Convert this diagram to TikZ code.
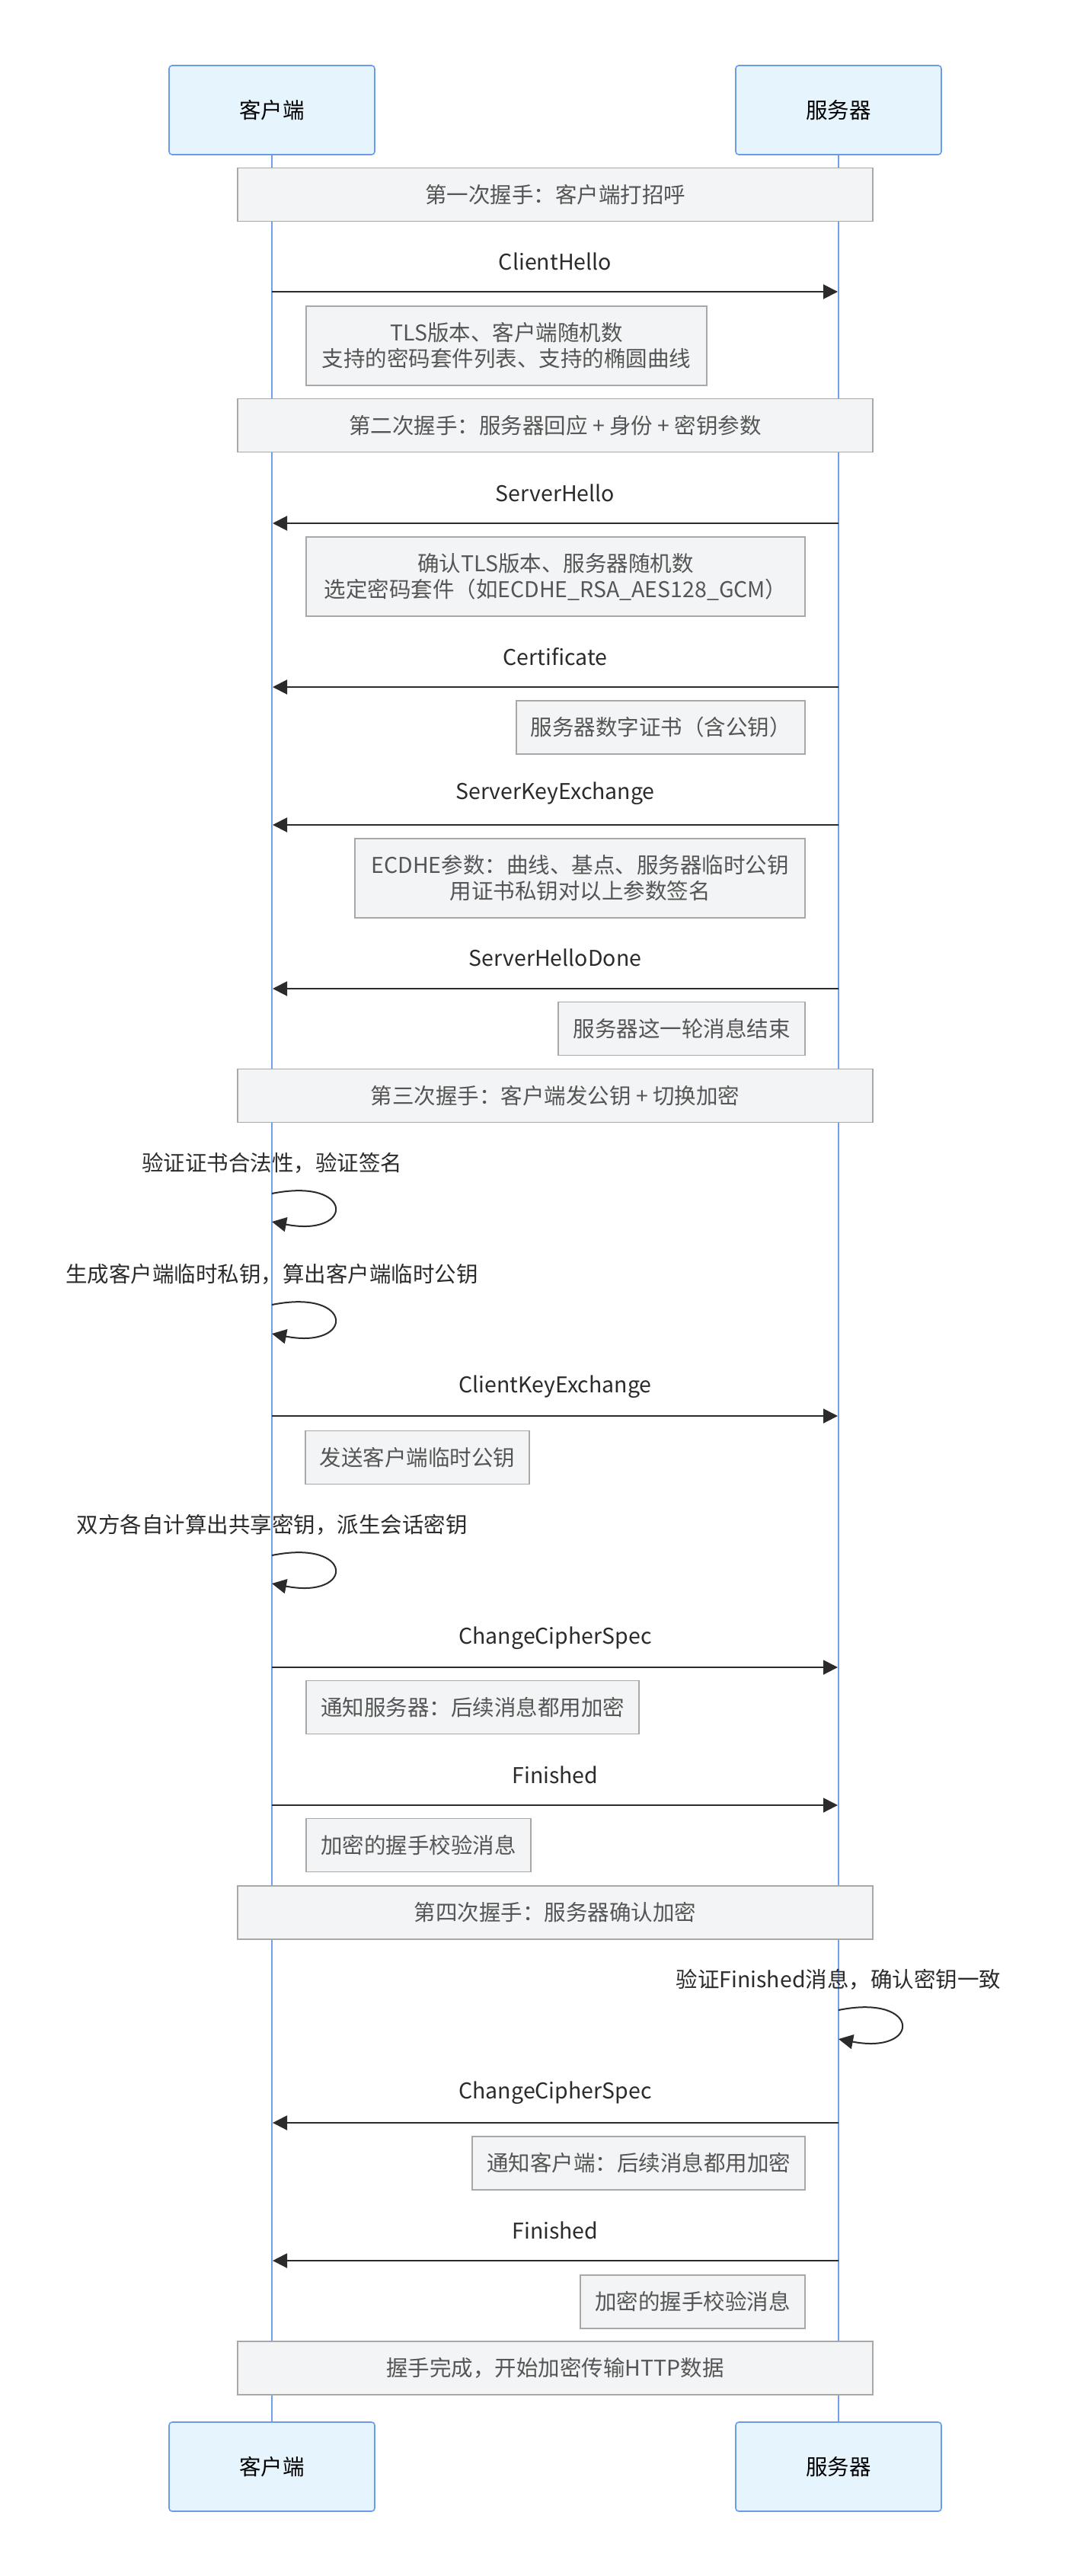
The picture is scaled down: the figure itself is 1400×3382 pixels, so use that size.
\documentclass[tikz,border=0pt]{standalone}
\usepackage{fontspec}
\setmainfont{Noto Sans CJK SC}
\usetikzlibrary{arrows.meta}
\definecolor{lifeblue}{HTML}{6F9FEE}
\definecolor{actfill}{HTML}{E6F4FE}
\definecolor{actdraw}{HTML}{6B9BE8}
\definecolor{notefill}{HTML}{F3F4F5}
\definecolor{notedraw}{HTML}{A8A8A8}
\definecolor{notetext}{HTML}{555555}
\definecolor{msgtext}{HTML}{2B2B2B}
\newcommand\dgfont{\fontsize{28.5}{34}\selectfont}
\begin{document}
\begin{tikzpicture}[x=1pt,y=-1pt,
  actor/.style={draw=actdraw, fill=actfill, line width=1.6pt, rounded corners=4pt,
    minimum width=270pt, minimum height=117pt, inner sep=0pt, font=\dgfont, text=black},
  bar/.style={draw=notedraw, fill=notefill, line width=1.6pt, minimum width=834pt,
    minimum height=70pt, inner sep=0pt, font=\dgfont, text=notetext},
  notebox/.style={draw=notedraw, fill=notefill, line width=1.6pt, inner sep=0pt,
    font=\dgfont, text=notetext, align=center},
  msg/.style={font=\dgfont, text=msgtext, inner sep=0pt},
  life/.style={draw=lifeblue, line width=2pt},
  arr/.style={draw=msgtext, line width=2pt, -{Triangle[length=19pt,width=19pt]}}
]
\useasboundingbox (0,0) rectangle (1400,3382);
\fill[white] (0,0) rectangle (1400,3382);

% actors
\node[actor] (ca) at (357,144.5) {客户端};
\node[actor] (sa) at (1101,144.5) {服务器};
\node[actor] (cb) at (357,3238.5) {客户端};
\node[actor] (sb) at (1101,3238.5) {服务器};

% lifelines
\draw[life] (ca.south) -- (cb.north);
\draw[life] (sa.south) -- (sb.north);

% phase bars
\node[bar] (p1) at (729,255.5) {第一次握手：客户端打招呼};
\node[bar] (p2) at (729,558.5) {第二次握手：服务器回应 + 身份 + 密钥参数};
\node[bar] (p3) at (729,1438.5) {第三次握手：客户端发公钥 + 切换加密};
\node[bar] (p4) at (729,2511) {第四次握手：服务器确认加密};
\node[bar] (p5) at (729,3109) {握手完成，开始加密传输HTTP数据};

% ClientHello
\node[msg] (t1) at (729,343) {ClientHello};
\coordinate (m1a) at (357,383); \coordinate (m1b) at (1100,383);
\draw[arr] (m1a) -- (m1b);
\node[notebox, minimum width=526pt, minimum height=104pt] (c1) at (665,454)
  {TLS版本、客户端随机数\\支持的密码套件列表、支持的椭圆曲线};

% ServerHello
\node[msg] (t2) at (729,647) {ServerHello};
\coordinate (m2a) at (1101,687); \coordinate (m2b) at (358,687);
\draw[arr] (m2a) -- (m2b);
\node[notebox, minimum width=655pt, minimum height=104pt] (c2) at (729.5,757)
  {确认TLS版本、服务器随机数\\选定密码套件（如ECDHE\_RSA\_AES128\_GCM）};

% Certificate
\node[msg] (t3) at (729,862) {Certificate};
\coordinate (m3a) at (1101,902); \coordinate (m3b) at (358,902);
\draw[arr] (m3a) -- (m3b);
\node[notebox, minimum width=379pt, minimum height=70pt] (c3) at (867.5,955)
  {服务器数字证书（含公钥）};

% ServerKeyExchange
\node[msg] (t4) at (729,1042) {ServerKeyExchange};
\coordinate (m4a) at (1101,1083); \coordinate (m4b) at (358,1083);
\draw[arr] (m4a) -- (m4b);
\node[notebox, minimum width=591pt, minimum height=104pt] (c4) at (761.5,1153)
  {ECDHE参数：曲线、基点、服务器临时公钥\\用证书私钥对以上参数签名};

% ServerHelloDone
\node[msg] (t5) at (729,1257) {ServerHelloDone};
\coordinate (m5a) at (1101,1298); \coordinate (m5b) at (358,1298);
\draw[arr] (m5a) -- (m5b);
\node[notebox, minimum width=324pt, minimum height=70pt] (c5) at (895,1350.5)
  {服务器这一轮消息结束};

% self loop 1
\node[msg] (t6) at (357,1527) {验证证书合法性，验证签名};
\coordinate (l1a) at (357,1567); \coordinate (l1b) at (357,1604);
\draw[arr] (l1a) .. controls +(109,-22) and +(109,21) .. (l1b);

% self loop 2
\node[msg] (t7) at (357,1673) {生成客户端临时私钥，算出客户端临时公钥};
\coordinate (l2a) at (357,1713); \coordinate (l2b) at (357,1751);
\draw[arr] (l2a) .. controls +(109,-22) and +(109,21) .. (l2b);

% ClientKeyExchange
\node[msg] (t8) at (729,1821) {ClientKeyExchange};
\coordinate (m8a) at (357,1859); \coordinate (m8b) at (1100,1859);
\draw[arr] (m8a) -- (m8b);
\node[notebox, minimum width=294pt, minimum height=70pt] (c6) at (548,1913.5)
  {发送客户端临时公钥};

% self loop 3
\node[msg] (t9) at (357,2002) {双方各自计算出共享密钥，派生会话密钥};
\coordinate (l3a) at (357,2042); \coordinate (l3b) at (357,2079);
\draw[arr] (l3a) .. controls +(109,-22) and +(109,21) .. (l3b);

% ChangeCipherSpec (client)
\node[msg] (t10) at (729,2151) {ChangeCipherSpec};
\coordinate (m10a) at (357,2189); \coordinate (m10b) at (1100,2189);
\draw[arr] (m10a) -- (m10b);
\node[notebox, minimum width=437pt, minimum height=70pt] (c7) at (620.5,2241.5)
  {通知服务器：后续消息都用加密};

% Finished (client)
\node[msg] (t11) at (729,2330) {Finished};
\coordinate (m11a) at (357,2370); \coordinate (m11b) at (1100,2370);
\draw[arr] (m11a) -- (m11b);
\node[notebox, minimum width=295pt, minimum height=70pt] (c8) at (549.5,2422.5)
  {加密的握手校验消息};

% server self loop
\node[msg] (t12) at (1101,2599) {验证Finished消息，确认密钥一致};
\coordinate (l4a) at (1101,2639); \coordinate (l4b) at (1101,2677);
\draw[arr] (l4a) .. controls +(109,-22) and +(109,21) .. (l4b);

% ChangeCipherSpec (server)
\node[msg] (t13) at (729,2748) {ChangeCipherSpec};
\coordinate (m13a) at (1101,2787); \coordinate (m13b) at (358,2787);
\draw[arr] (m13a) -- (m13b);
\node[notebox, minimum width=437pt, minimum height=70pt] (c9) at (838.5,2840)
  {通知客户端：后续消息都用加密};

% Finished (server)
\node[msg] (t14) at (729,2928) {Finished};
\coordinate (m14a) at (1101,2968); \coordinate (m14b) at (358,2968);
\draw[arr] (m14a) -- (m14b);
\node[notebox, minimum width=295pt, minimum height=70pt] (c10) at (909.5,3022)
  {加密的握手校验消息};
\end{tikzpicture}
\end{document}
